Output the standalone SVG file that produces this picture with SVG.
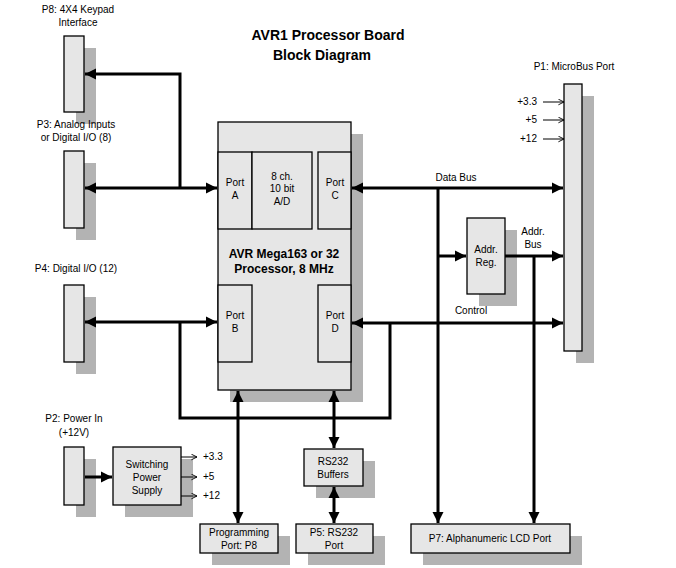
<svg xmlns="http://www.w3.org/2000/svg" width="676" height="568" viewBox="0 0 676 568">
<style>
.b{fill:#e6e6e6;stroke:#000;stroke-width:1.3}
.s{fill:#b3b3b3}
.w{fill:none;stroke:#000;stroke-width:3}
.t{stroke:#000;stroke-width:1;fill:none}
text{font-family:"Liberation Sans",Arial,sans-serif;font-size:10px;fill:#000}
.c{text-anchor:middle}
.h{font-weight:bold;font-size:14px}
.m{font-weight:bold;font-size:12px}
</style>
<defs>
<marker id="a" viewBox="0 0 10 10" refX="10" refY="5" markerWidth="3.8" markerHeight="3.8" orient="auto-start-reverse" markerUnits="strokeWidth"><path d="M0,0L10,5L0,10z" fill="#000"/></marker>
<marker id="o" viewBox="0 0 10 10" refX="10" refY="5" markerWidth="7" markerHeight="7" orient="auto" markerUnits="userSpaceOnUse"><path d="M2,1L10,5L2,9" fill="none" stroke="#000" stroke-width="1.3"/></marker>
</defs>
<rect width="676" height="568" fill="#fff"/>
<text class="c h" x="328" y="40">AVR1 Processor Board</text>
<text class="c h" x="322" y="60">Block Diagram</text>

<g id="p8"><rect class="s" x="76" y="48" width="20" height="76"/><rect class="b" x="64" y="36" width="20" height="76"/><text class="c" x="78" y="13">P8: 4X4 Keypad</text><text class="c" x="78" y="26">Interface</text></g>
<g id="p3"><rect class="s" x="76" y="163" width="20" height="77"/><rect class="b" x="64" y="151" width="20" height="77"/><text class="c" x="76" y="128">P3: Analog Inputs</text><text class="c" x="76" y="141">or Digital I/O (8)</text></g>
<g id="p4"><rect class="s" x="76" y="297" width="20" height="77"/><rect class="b" x="64" y="285" width="20" height="77"/><text class="c" x="76" y="272">P4: Digital I/O (12)</text></g>
<g id="p2"><rect class="s" x="76" y="459" width="20" height="58"/><rect class="b" x="64" y="447" width="20" height="58"/><text class="c" x="74" y="422">P2: Power In</text><text class="c" x="74" y="436">(+12V)</text></g>
<g id="psu"><rect class="s" x="125" y="459" width="68" height="58"/><rect class="b" x="113" y="447" width="68" height="58"/><text class="c" x="147" y="468">Switching</text><text class="c" x="147" y="481">Power</text><text class="c" x="147" y="494">Supply</text>
<line class="t" x1="181" y1="457" x2="197" y2="457" marker-end="url(#o)"/><line class="t" x1="181" y1="477" x2="197" y2="477" marker-end="url(#o)"/><line class="t" x1="181" y1="496" x2="197" y2="496" marker-end="url(#o)"/>
<text x="203" y="460">+3.3</text><text x="203" y="480">+5</text><text x="203" y="499">+12</text></g>

<g id="cpu"><rect class="s" x="230" y="134" width="133" height="268"/><rect class="b" x="218" y="122" width="133" height="268"/>
<rect class="b" x="218" y="152" width="34" height="77"/><rect class="b" x="252" y="152" width="60" height="77"/><rect class="b" x="318" y="152" width="33" height="77"/>
<rect class="b" x="218" y="285" width="34" height="77"/><rect class="b" x="318" y="285" width="33" height="77"/>
<text class="c" x="235" y="186">Port</text><text class="c" x="235" y="199">A</text>
<text class="c" x="282" y="180">8 ch.</text><text class="c" x="282" y="192">10 bit</text><text class="c" x="282" y="205">A/D</text>
<text class="c" x="335" y="186">Port</text><text class="c" x="335" y="199">C</text>
<text class="c" x="235" y="319">Port</text><text class="c" x="235" y="332">B</text>
<text class="c" x="335" y="319">Port</text><text class="c" x="335" y="332">D</text>
<text class="c m" x="284" y="258">AVR Mega163 or 32</text><text class="c m" x="284" y="273">Processor, 8 MHz</text></g>

<g id="p1"><rect class="s" x="576" y="96" width="18" height="267"/><rect class="b" x="564" y="84" width="18" height="267"/><text class="c" x="574" y="70">P1: MicroBus Port</text>
<line class="t" x1="543" y1="102" x2="564" y2="102" marker-end="url(#o)"/><line class="t" x1="543" y1="120" x2="564" y2="120" marker-end="url(#o)"/><line class="t" x1="543" y1="139" x2="564" y2="139" marker-end="url(#o)"/>
<text x="537" y="105" text-anchor="end">+3.3</text><text x="537" y="123" text-anchor="end">+5</text><text x="537" y="142" text-anchor="end">+12</text></g>

<g id="areg"><rect class="s" x="479" y="230" width="38" height="76"/><rect class="b" x="467" y="218" width="38" height="76"/><text class="c" x="486" y="253">Addr.</text><text class="c" x="486" y="266">Reg.</text></g>
<g id="rs232"><rect class="s" x="316" y="461" width="59" height="37"/><rect class="b" x="304" y="449" width="59" height="37"/><text class="c" x="333" y="465">RS232</text><text class="c" x="333" y="478">Buffers</text></g>
<g id="prog"><rect class="s" x="212" y="536" width="78" height="29"/><rect class="b" x="200" y="524" width="78" height="29"/><text class="c" x="239" y="536">Programming</text><text class="c" x="239" y="549">Port: P8</text></g>
<g id="p5"><rect class="s" x="308" y="536" width="77" height="29"/><rect class="b" x="296" y="524" width="77" height="29"/><text class="c" x="334" y="536">P5: RS232</text><text class="c" x="334" y="549">Port</text></g>
<g id="p7"><rect class="s" x="423" y="536" width="159" height="29"/><rect class="b" x="411" y="524" width="159" height="29"/><text class="c" x="490" y="542">P7: Alphanumeric LCD Port</text></g>

<g id="connectors">
<path class="w" d="M180,188V74H85" marker-end="url(#a)"/>
<line class="w" x1="85" y1="188" x2="217" y2="188" marker-start="url(#a)" marker-end="url(#a)"/>
<line class="w" x1="85" y1="322" x2="217" y2="322" marker-start="url(#a)" marker-end="url(#a)"/>
<path class="w" d="M180,322V418H390V323"/>
<line class="w" x1="352" y1="188" x2="563" y2="188" marker-start="url(#a)" marker-end="url(#a)"/>
<line class="w" x1="352" y1="323" x2="563" y2="323" marker-start="url(#a)" marker-end="url(#a)"/>
<line class="w" x1="438" y1="188" x2="438" y2="523" marker-end="url(#a)"/>
<line class="w" x1="438" y1="256" x2="466" y2="256" marker-end="url(#a)"/>
<line class="w" x1="505" y1="256" x2="563" y2="256" marker-end="url(#a)"/>
<line class="w" x1="534" y1="256" x2="534" y2="523" marker-end="url(#a)"/>
<line class="w" x1="238" y1="391" x2="238" y2="523" marker-start="url(#a)" marker-end="url(#a)"/>
<line class="w" x1="334" y1="391" x2="334" y2="448" marker-start="url(#a)" marker-end="url(#a)"/>
<line class="w" x1="334" y1="487" x2="334" y2="523" marker-start="url(#a)" marker-end="url(#a)"/>
<line class="w" x1="85" y1="477" x2="112" y2="477" marker-end="url(#a)"/>
<text class="c" x="456" y="181">Data Bus</text>
<text class="c" x="533" y="235">Addr.</text><text class="c" x="533" y="248">Bus</text>
<text class="c" x="471" y="314">Control</text>
</g>
</svg>
